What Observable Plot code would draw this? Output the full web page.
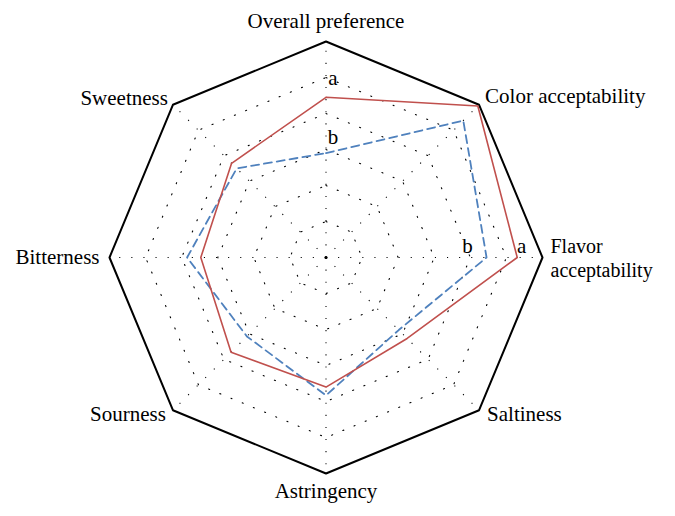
<!DOCTYPE html>
<html>
<head>
<meta charset="utf-8">
<script src="https://cdn.jsdelivr.net/npm/d3@7"></script>
<script src="https://cdn.jsdelivr.net/npm/@observablehq/plot@0.6"></script>
<style>
  html, body { margin: 0; padding: 0; background: #fff; }
  #chart svg { display: block; }
</style>
</head>
<body>
<div id="chart"></div>
<script>
const attributes = ["Overall preference", "Color acceptability", "Flavor acceptability", "Saltiness", "Astringency", "Sourness", "Bitterness", "Sweetness"];
const seriesRed = [4.45, 5.95, 5.30, 3.18, 3.60, 3.72, 3.47, 3.70];
const seriesBlue = [2.90, 5.38, 4.45, 2.85, 3.83, 3.10, 3.85, 3.50];
const scaleMax = 6;
const ringLevels = [1, 2, 3, 4, 5];
const significance = [
  {attr: 0, value: 4.97, text: "a"},
  {attr: 0, value: 3.33, text: "b"},
  {attr: 2, value: 3.92, text: "b"},
  {attr: 2, value: 5.42, text: "a"}
];

const n = attributes.length;
const ang = i => i * 2 * Math.PI / n;
const px = (i, v) => v * Math.sin(ang(i));
const py = (i, v) => v * Math.cos(ang(i));

function polygon(values, series) {
  const pts = values.map((v, i) => ({x: px(i, v), y: py(i, v), series}));
  pts.push({...pts[0]});
  return pts;
}

const redPts = polygon(seriesRed, "red");
const bluePts = polygon(seriesBlue, "blue");
const outerPts = polygon(attributes.map(() => scaleMax), "outer");
const ringPts = ringLevels.flatMap(l => polygon(attributes.map(() => l), "r" + l));
const spokes = attributes.map((a, i) => ({x1: 0, y1: 0, x2: px(i, scaleMax), y2: py(i, scaleMax)}));

const labelCfg = [
  {anchor: "middle", dx: 0, dy: -20},
  {anchor: "start", dx: 6, dy: -8},
  null,
  {anchor: "start", dx: 8, dy: 4},
  {anchor: "middle", dx: 0, dy: 18},
  {anchor: "end", dx: -7, dy: 4},
  {anchor: "end", dx: -10, dy: 0},
  {anchor: "end", dx: -5, dy: -6}
];
const labels = attributes.map((a, i) => ({x: px(i, scaleMax), y: py(i, scaleMax), text: a, cfg: labelCfg[i]}));
const flavorWords = ["Flavor", "acceptability"];

const font = "'Liberation Serif', 'DejaVu Serif', serif";
const fs = 21;

const plot = Plot.plot({
  width: 675,
  height: 516,
  x: {domain: [-scaleMax, scaleMax], range: [109, 542], axis: null},
  y: {domain: [-scaleMax, scaleMax], range: [473, 41], axis: null},
  style: {fontFamily: font, background: "#fff"},
  marks: [
    Plot.link(spokes, {x1: "x1", y1: "y1", x2: "x2", y2: "y2", stroke: "#000", strokeWidth: 1.1, strokeDasharray: "1.1,11"}),
    Plot.line(ringPts, {x: "x", y: "y", z: "series", stroke: "#000", strokeWidth: 1.1, strokeDasharray: "1.1,11"}),
    Plot.line(outerPts, {x: "x", y: "y", stroke: "#000", strokeWidth: 2}),
    Plot.dot([{x: 0, y: 0}], {x: "x", y: "y", r: 1.6, fill: "#000"}),
    Plot.line(bluePts, {x: "x", y: "y", stroke: "#4f81bd", strokeWidth: 1.8, strokeDasharray: "8,5"}),
    Plot.line(redPts, {x: "x", y: "y", stroke: "#c0504d", strokeWidth: 1.6}),
    Plot.text(significance.filter(d => d.attr === 0), {x: d => px(d.attr, d.value), y: d => py(d.attr, d.value), text: "text", dx: 7, fontSize: fs, fill: "#000"}),
    Plot.text(significance.filter(d => d.attr === 2), {x: d => px(d.attr, d.value), y: d => py(d.attr, d.value), text: "text", dy: -11, fontSize: fs, fill: "#000"}),
    ...labels.filter(l => l.cfg).map(l => Plot.text([l], {x: "x", y: "y", text: "text", textAnchor: l.cfg.anchor, dx: l.cfg.dx, dy: l.cfg.dy, fontSize: fs, fill: "#000"})),
    Plot.text([labels[2]], {x: "x", y: "y", text: () => flavorWords[0], textAnchor: "start", dx: 8, dy: -11, fontSize: 20, fill: "#000"}),
    Plot.text([labels[2]], {x: "x", y: "y", text: () => flavorWords[1], textAnchor: "start", dx: 8, dy: 13, fontSize: 20, fill: "#000"})
  ]
});
document.getElementById("chart").appendChild(plot);
</script>
</body>
</html>
